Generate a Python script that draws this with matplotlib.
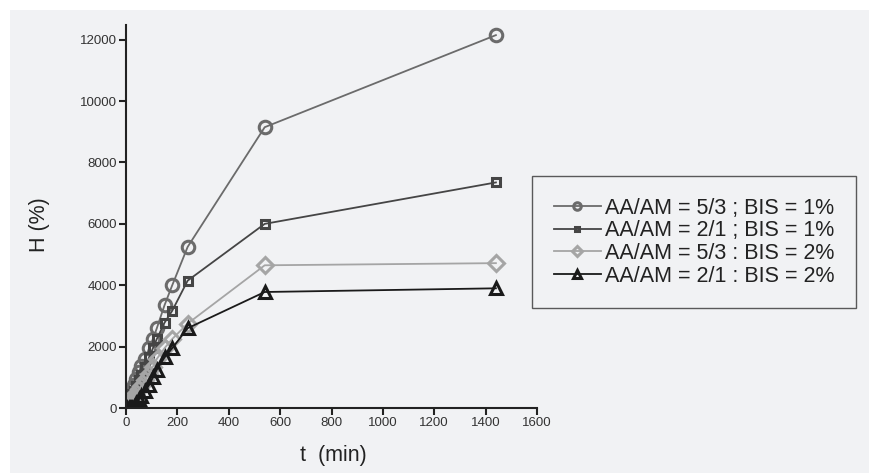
import matplotlib
matplotlib.use("Agg")
import matplotlib.pyplot as plt
from matplotlib.patches import Rectangle

# temps (min)
t = [0, 5, 10, 15, 20, 25, 30, 40, 50, 60, 75, 90, 105, 120, 150, 180, 240, 540, 1440]

# taux de gonflement H (%)
h_53_1 = [0, 130, 260, 380, 500, 620, 740, 960, 1180, 1380, 1600, 1950, 2250, 2600, 3350, 4000, 5250, 9150, 12150]
h_21_1 = [0, 90, 180, 270, 360, 450, 540, 720, 900, 1080, 1350, 1650, 1950, 2250, 2780, 3170, 4150, 6000, 7350]
h_53_2 = [0, 60, 120, 180, 240, 300, 370, 490, 610, 730, 920, 1120, 1350, 1600, 1950, 2250, 2750, 4650, 4720]
h_21_2 = [0, 0, 0, 0, 0, 0, 20, 150, 280, 380, 560, 750, 1000, 1250, 1650, 1950, 2600, 3780, 3900]

labels = ["AA/AM = 5/3 ; BIS = 1%", "AA/AM = 2/1 ; BIS = 1%",
          "AA/AM = 5/3 : BIS = 2%", "AA/AM = 2/1 : BIS = 2%"]

plt.rcParams['font.family'] = ['Liberation Sans', 'DejaVu Sans']

fig = plt.figure(figsize=(8.69, 4.73), dpi=100)
fig.patch.set_facecolor('white')
fond = '#f1f2f4'
fig.patches.append(Rectangle((10 / 869, 0), 1, 1 - 10 / 473, transform=fig.transFigure,
                             facecolor=fond, edgecolor='none', zorder=-10))

ax = fig.add_axes([126 / 869, 1 - 408 / 473, (537 - 126) / 869, (408 - 25) / 473])
ax.set_facecolor(fond)

ax.plot(t, h_53_1, color='#6b6b6b', lw=1.3, marker='o', ms=9, mfc='none', mew=2.2, label=labels[0])
ax.plot(t, h_21_1, color='#454545', lw=1.3, marker='s', ms=6, mfc='none', mew=2.2, label=labels[1])
ax.plot(t, h_53_2, color='#a5a5a5', lw=1.3, marker='D', ms=8, mfc='none', mew=2.2, label=labels[2])
ax.plot(t, h_21_2, color='#1a1a1a', lw=1.3, marker='^', ms=9, mfc='none', mew=2.2, label=labels[3])

ax.set_xlim(0, 1600)
ax.set_ylim(0, 12480)
ax.set_xticks(range(0, 1601, 200))
ax.set_yticks(range(0, 12001, 2000))

for s in ['top', 'right']:
    ax.spines[s].set_visible(False)
for s in ['left', 'bottom']:
    ax.spines[s].set_linewidth(1.5)
    ax.spines[s].set_color('#222222')
ax.tick_params(direction='out', length=5, width=1.5, color='#222222',
               labelsize=9.5, labelcolor='#333333', pad=1.5)

fig.text(40 / 869, 1 - 225 / 473, "H (%)", rotation=90, ha='center', va='center',
         fontsize=15.5, color='#222222')
fig.text(333 / 869, 1 - 455 / 473, "t  (min)", ha='center', va='center',
         fontsize=15.5, color='#222222')

leg = ax.legend(loc='upper left', bbox_to_anchor=(532 / 869, 1 - 176 / 473),
                bbox_transform=fig.transFigure, fontsize=15.5, frameon=True,
                fancybox=False, edgecolor='#333333', facecolor=fond,
                handlelength=2.2, handletextpad=0.2, labelspacing=0.08,
                markerscale=0.6, borderpad=1.0, borderaxespad=0)
leg.get_frame().set_linewidth(1.0)
for txt in leg.get_texts():
    txt.set_color('#222222')

fig.savefig("out.png", dpi=100, facecolor=fig.get_facecolor())
